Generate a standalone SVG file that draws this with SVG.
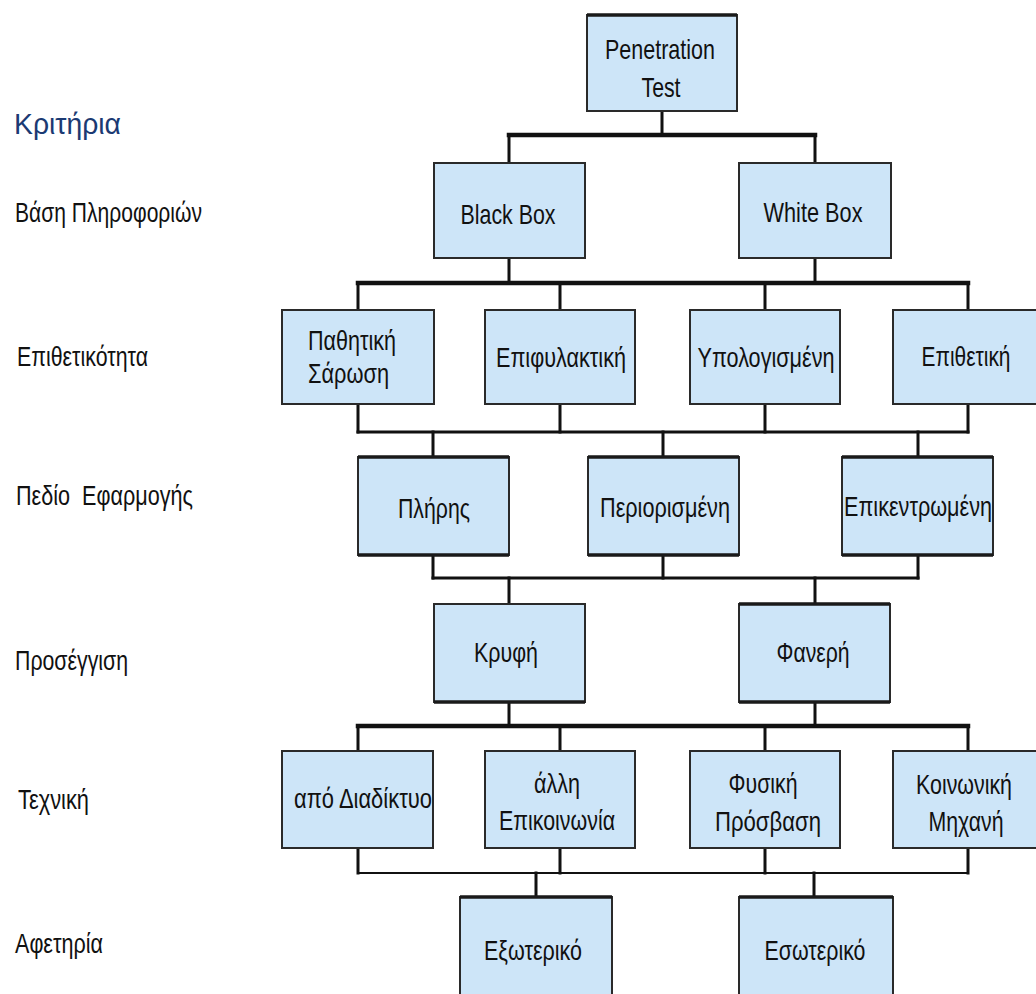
<svg xmlns="http://www.w3.org/2000/svg" width="1036" height="994" viewBox="0 0 1036 994">
<style>
.bx{fill:#cde5f8;stroke:#2a2a2a;stroke-width:2}
.edge{stroke:#1a1a1a;stroke-width:3.5;fill:none}
.t{font-family:"Liberation Sans",Arial,sans-serif;font-size:28px;fill:#111;text-anchor:middle}
.lb{font-family:"Liberation Sans",Arial,sans-serif;font-size:28px;fill:#111;white-space:pre}
.hd{font-family:"Liberation Sans",Arial,sans-serif;font-size:30px;fill:#1b3a73}
.w{stroke:#111;fill:none;stroke-linecap:square}
.thick{stroke-width:4.5}
.mid{stroke-width:3}
.thin{stroke-width:2}
</style>
<rect width="1036" height="994" fill="#fff"/>
<g id="labels">
<text class="hd" x="14" y="134" textLength="107" lengthAdjust="spacingAndGlyphs">Κριτήρια</text>
<text class="lb" x="15" y="222" textLength="187" lengthAdjust="spacingAndGlyphs">Βάση Πληροφοριών</text>
<text class="lb" x="17" y="366" textLength="131" lengthAdjust="spacingAndGlyphs">Επιθετικότητα</text>
<text class="lb" x="16" y="505" textLength="177" lengthAdjust="spacingAndGlyphs">Πεδίο  Εφαρμογής</text>
<text class="lb" x="15" y="670" textLength="113" lengthAdjust="spacingAndGlyphs">Προσέγγιση</text>
<text class="lb" x="18" y="809" textLength="71" lengthAdjust="spacingAndGlyphs">Τεχνική</text>
<text class="lb" x="15" y="953" textLength="88" lengthAdjust="spacingAndGlyphs">Αφετηρία</text>
</g>
<g id="connectors">
<path class="w mid" d="M662 111V135M509 135V163M815 135V163"/>
<path class="w thick" d="M509 135H815"/>
<path class="w mid" d="M509 258V283M815 258V283M358 283V310M560 283V310M765 283V310M968 283V310"/>
<path class="w thick" d="M358 283H968"/>
<path class="w mid" d="M358 404V432M560 404V432M765 404V432M968 404V432M433 432V457M663 432V457M918 432V457"/>
<path class="w mid" d="M358 432H968"/>
<path class="w mid" d="M433 555V578M663 555V578M918 555V578M509 578V604M815 578V604"/>
<path class="w mid" d="M433 578H918"/>
<path class="w mid" d="M509 702V726M815 702V726M358 726V751M560 726V751M765 726V751M968 726V751"/>
<path class="w thick" d="M358 726H968"/>
<path class="w mid" d="M358 848V873M560 848V873M765 848V873M968 848V873M536 873V897M814 873V897"/>
<path class="w thin" d="M358 873H968"/>
</g>
<g id="n-penetration"><rect class="bx" x="587" y="15" width="150" height="96"/><path class="edge" d="M587 15H737"/><text class="t" x="660" y="59" textLength="110" lengthAdjust="spacingAndGlyphs">Penetration</text><text class="t" x="661" y="97" textLength="39" lengthAdjust="spacingAndGlyphs">Test</text></g>
<g id="n-blackbox"><rect class="bx" x="434" y="163" width="151" height="95"/><text class="t" x="508" y="224" textLength="95" lengthAdjust="spacingAndGlyphs">Black Box</text></g>
<g id="n-whitebox"><rect class="bx" x="739" y="163" width="152" height="95"/><text class="t" x="813" y="222" textLength="99" lengthAdjust="spacingAndGlyphs">White Box</text></g>
<g id="n-pathitiki"><rect class="bx" x="282" y="310" width="152" height="94"/><text class="t" x="308" y="350" style="text-anchor:start" textLength="88" lengthAdjust="spacingAndGlyphs">Παθητική</text><text class="t" x="308" y="383" style="text-anchor:start" textLength="81" lengthAdjust="spacingAndGlyphs">Σάρωση</text></g>
<g id="n-epifylaktiki"><rect class="bx" x="485" y="310" width="150" height="94"/><text class="t" x="561" y="367" textLength="130" lengthAdjust="spacingAndGlyphs">Επιφυλακτική</text></g>
<g id="n-ypologismeni"><rect class="bx" x="690" y="310" width="150" height="94"/><text class="t" x="766" y="367" textLength="137" lengthAdjust="spacingAndGlyphs">Υπολογισμένη</text></g>
<g id="n-epithetiki"><rect class="bx" x="893" y="310" width="145" height="94"/><text class="t" x="966" y="366" textLength="89" lengthAdjust="spacingAndGlyphs">Επιθετική</text></g>
<g id="n-plires"><rect class="bx" x="358" y="457" width="151" height="98"/><path class="edge" d="M358 457H509M358 555H509"/><text class="t" x="434" y="518" textLength="72" lengthAdjust="spacingAndGlyphs">Πλήρης</text></g>
<g id="n-periorismeni"><rect class="bx" x="588" y="457" width="151" height="98"/><path class="edge" d="M588 457H739M588 555H739"/><text class="t" x="665" y="517" textLength="130" lengthAdjust="spacingAndGlyphs">Περιορισμένη</text></g>
<g id="n-epikentromeni"><rect class="bx" x="842" y="457" width="151" height="98"/><path class="edge" d="M842 457H993M842 555H993"/><text class="t" x="918" y="516" textLength="148" lengthAdjust="spacingAndGlyphs">Επικεντρωμένη</text></g>
<g id="n-kryfi"><rect class="bx" x="434" y="604" width="151" height="98"/><path class="edge" d="M434 702H585"/><text class="t" x="506" y="662" textLength="64" lengthAdjust="spacingAndGlyphs">Κρυφή</text></g>
<g id="n-faneri"><rect class="bx" x="739" y="604" width="151" height="98"/><path class="edge" d="M739 604H890M739 702H890"/><text class="t" x="813" y="662" textLength="73" lengthAdjust="spacingAndGlyphs">Φανερή</text></g>
<g id="n-diadiktyo"><rect class="bx" x="282" y="751" width="151" height="97"/><text class="t" x="363" y="808" textLength="138" lengthAdjust="spacingAndGlyphs">από Διαδίκτυο</text></g>
<g id="n-epikoinonia"><rect class="bx" x="485" y="751" width="150" height="97"/><text class="t" x="557" y="793" textLength="46" lengthAdjust="spacingAndGlyphs">άλλη</text><text class="t" x="557" y="830" textLength="116" lengthAdjust="spacingAndGlyphs">Επικοινωνία</text></g>
<g id="n-fysiki"><rect class="bx" x="690" y="751" width="150" height="97"/><text class="t" x="763" y="793" textLength="69" lengthAdjust="spacingAndGlyphs">Φυσική</text><text class="t" x="768" y="831" textLength="106" lengthAdjust="spacingAndGlyphs">Πρόσβαση</text></g>
<g id="n-koinoniki"><rect class="bx" x="893" y="751" width="145" height="97"/><text class="t" x="964" y="794" textLength="96" lengthAdjust="spacingAndGlyphs">Κοινωνική</text><text class="t" x="966" y="831" textLength="75" lengthAdjust="spacingAndGlyphs">Μηχανή</text></g>
<g id="n-exoteriko"><rect class="bx" x="460" y="897" width="152" height="98"/><path class="edge" d="M460 897H612"/><text class="t" x="533" y="960" textLength="98" lengthAdjust="spacingAndGlyphs">Εξωτερικό</text></g>
<g id="n-esoteriko"><rect class="bx" x="739" y="897" width="154" height="98"/><path class="edge" d="M739 897H893"/><text class="t" x="815" y="960" textLength="101" lengthAdjust="spacingAndGlyphs">Εσωτερικό</text></g>
</svg>
